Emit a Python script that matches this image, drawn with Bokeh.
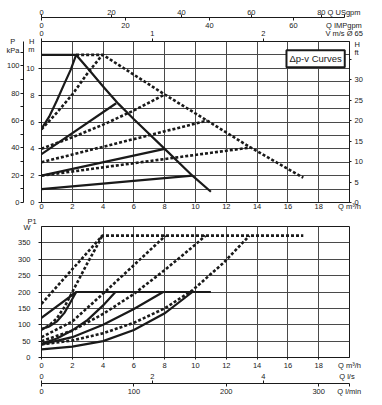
from bokeh.plotting import figure
from bokeh.models import Range1d, LinearAxis, FixedTicker, Label, Title
from bokeh.layouts import column
from bokeh.embed import file_html
from bokeh.resources import INLINE

# ---------------- data ----------------
# Upper chart: head H [m] against flow Q [m3/h]
h_solid_max_q = [0, 2.25, 3.0, 4.0, 5.0, 6.0, 8.0, 9.8, 11.0]
h_solid_max_h = [11, 11, 10.0, 8.65, 7.35, 6.2, 4.0, 2.0, 0.8]
h_solid_curve_q = [0, 0.5, 1.0, 1.5, 1.9, 2.25]
h_solid_curve_h = [5.5, 6.4, 7.6, 8.9, 9.9, 11.0]
h_solid_1_q = [0, 4.85]
h_solid_1_h = [3.6, 7.4]
h_solid_2_q = [0, 8.0]
h_solid_2_h = [2.0, 4.0]
h_solid_3_q = [0, 9.8]
h_solid_3_h = [1.0, 2.0]

h_dot_max_q = [2.25, 4.0, 8.0, 10.76, 13.57, 17.0]
h_dot_max_h = [11, 11, 8.05, 6.1, 4.1, 1.85]
h_dot_curve_q = [0, 1, 2, 3, 3.95]
h_dot_curve_h = [5.45, 6.7, 8.05, 9.65, 11.0]
h_dot_1_q = [0, 2, 4, 6, 8.0]
h_dot_1_h = [4.0, 4.86, 5.8, 6.86, 8.05]
h_dot_2_q = [0, 10.76]
h_dot_2_h = [3.0, 6.1]
h_dot_3_q = [0, 13.57]
h_dot_3_h = [2.0, 4.1]

# Lower chart: power input P1 [W] against flow Q [m3/h]
p_solid_max_q = [0, 2.25, 11.0]
p_solid_max_p = [121, 200, 200]
p_solid_curve_q = [0, 0.5, 1.0, 1.5, 1.9, 2.25]
p_solid_curve_p = [87, 95, 110, 137, 170, 200]
p_solid_1_q = [0, 1, 2, 3, 4, 4.8]
p_solid_1_p = [42, 58, 83, 115, 159, 200]
p_solid_2_q = [0, 2, 4, 6, 7.9]
p_solid_2_p = [40, 62, 100, 148, 200]
p_solid_3_q = [0, 2, 4, 6, 8, 9.8]
p_solid_3_p = [25, 33, 50, 84, 135, 200]

p_dot_max_q = [0, 3.95, 17.0]
p_dot_max_p = [164, 372, 372]
p_dot_curve_q = [0, 0.5, 1, 1.5, 2, 2.5, 3, 3.5, 3.95]
p_dot_curve_p = [85, 98, 120, 155, 200, 245, 290, 332, 372]
p_dot_1_q = [0, 2, 4, 6, 8.05]
p_dot_1_p = [62, 110, 195, 282, 372]
p_dot_2_q = [0, 2, 4, 6, 8, 10, 10.65]
p_dot_2_p = [50, 82, 133, 194, 267, 345, 372]
p_dot_3_q = [0, 2, 4, 6, 8, 9.8, 11.84, 13.5]
p_dot_3_p = [40, 52, 74, 106, 150, 205, 290, 372]

# tick labels
q_ticks = [0, 2, 4, 6, 8, 10, 12, 14, 16, 18]
h_m_ticks = [0, 2, 4, 6, 8, 10]
h_kpa_ticks = [0, 20, 40, 60, 80, 100]
h_kpa_marks = [0, 10, 20, 30, 40, 50, 60, 70, 80, 90, 100, 110]
h_ft_ticks = [0, 5, 10, 15, 20, 25, 30]
h_ft_marks = [0, 5, 10, 15, 20, 25, 30, 35]
v_ticks = [0, 1, 2]
usgpm_ticks = [0, 20, 40, 60, 80]
impgpm_ticks = [0, 20, 40, 60]
p1_ticks = [0, 50, 100, 150, 200, 250, 300, 350]
ls_ticks = [0, 2, 4]
lmin_ticks = [0, 100, 200, 300]

# unit conversions
Q_MAX, H_MAX, P_MAX = 20.0, 12.0, 400.0
M_TO_KPA, M_TO_FT = 9.81, 3.281
M3H_TO_USGPM, M3H_TO_IMPGPM = 4.403, 3.666
M3H_PER_MS = 7.2
M3H_TO_LS, M3H_TO_LMIN = 1 / 3.6, 1000 / 60

# ---------------- styling helpers ----------------
FONT = "Liberation Sans"
FS = "7.5px"
INK = "#1a1a1a"
GRID = "#4a4a4a"
W = 372
LB, RB = 41, 23
NB = "\u00a0"


def style_axis(ax, labels, marks, standoff, mark_out=3, mark_in=0, overrides=None,
               line=True, label_tick=0):
    """labels: positions carrying text; marks: positions with a visible (minor) tick mark.
    label_tick > 0 also draws a mark of that length at every label position."""
    ax.ticker = FixedTicker(ticks=labels, minor_ticks=marks)
    ax.major_label_overrides = overrides or {}
    ax.major_label_text_font = FONT
    ax.major_label_text_font_size = FS
    ax.major_label_text_color = INK
    ax.major_tick_out = label_tick
    ax.major_tick_in = 0
    ax.major_tick_line_color = INK if label_tick else None
    ax.minor_tick_out = mark_out
    ax.minor_tick_in = mark_in
    ax.minor_tick_line_color = INK
    ax.major_label_standoff = standoff
    ax.axis_line_color = INK if line else None


def base(height, top, bottom, y_range):
    p = figure(width=W, height=height, title=None,
               x_range=Range1d(0, Q_MAX), y_range=y_range,
               min_border_left=LB, min_border_right=RB,
               min_border_top=top, min_border_bottom=bottom,
               toolbar_location=None, output_backend="svg")
    p.background_fill_color = "white"
    p.border_fill_color = "white"
    p.outline_line_color = INK
    return p


def style_grid(p, xt, yt):
    p.xgrid.ticker = FixedTicker(ticks=xt)
    p.ygrid.ticker = FixedTicker(ticks=yt)
    for g in (p.xgrid[0], p.ygrid[0]):
        g.grid_line_color = GRID
        g.grid_line_width = 1


SOLID = dict(line_color=INK, line_width=2.2, line_join="miter")
DOT = dict(line_color=INK, line_width=2.6, line_dash="3 2", line_cap="butt")

# ---------------- upper chart: H ----------------
top = base(213, 41, 11, Range1d(0, H_MAX))
style_grid(top, q_ticks[1:], list(range(1, 12)))

style_axis(top.xaxis[0], q_ticks + [20], [], -1, overrides={20: "Q m³/h"})
style_axis(top.yaxis[0], h_m_ticks + [11.4, 12], h_m_ticks, 4,
           overrides={11.4: NB + "m", 12: "H"})

top.extra_y_ranges = {"kpa": Range1d(0, H_MAX * M_TO_KPA), "ft": Range1d(0, H_MAX * M_TO_FT)}
top.extra_x_ranges = {"v": Range1d(0, Q_MAX / M3H_PER_MS),
                      "imp": Range1d(0, Q_MAX * M3H_TO_IMPGPM),
                      "us": Range1d(0, Q_MAX * M3H_TO_USGPM)}
ax_kpa = LinearAxis(y_range_name="kpa")
style_axis(ax_kpa, h_kpa_ticks + [111.5, 117.5], h_kpa_marks, 1,
           overrides={111.5: "kPa", 117.5: "P" + NB * 2})
top.add_layout(ax_kpa, "left")
ax_ft = LinearAxis(y_range_name="ft")
style_axis(ax_ft, h_ft_ticks + [36.6, 38.55], h_ft_marks, 3, mark_out=2,
           overrides={36.6: "ft", 38.55: "H"})
top.add_layout(ax_ft, "right")

# stacked upward from the frame: V, IMPgpm, USgpm
ax_v = LinearAxis(x_range_name="v")
style_axis(ax_v, v_ticks + [2.73], v_ticks, 1, overrides={2.73: "V m/s Ø 65"}, line=False)
top.add_layout(ax_v, "above")
ax_imp = LinearAxis(x_range_name="imp")
style_axis(ax_imp, impgpm_ticks + [72], [], -4, mark_out=0,
           overrides={72: "Q IMPgpm"}, line=False)
top.add_layout(ax_imp, "above")
ax_us = LinearAxis(x_range_name="us", bounds=(0, 86.5))
imp_marks_in_us = [v / M3H_TO_IMPGPM * M3H_TO_USGPM for v in impgpm_ticks]
style_axis(ax_us, usgpm_ticks + [86.5], imp_marks_in_us, -2, mark_out=0, mark_in=3,
           overrides={86.5: "Q USgpm"}, label_tick=3)
top.add_layout(ax_us, "above")

for q, h in [(h_dot_max_q, h_dot_max_h), (h_dot_curve_q, h_dot_curve_h),
             (h_dot_1_q, h_dot_1_h), (h_dot_2_q, h_dot_2_h), (h_dot_3_q, h_dot_3_h)]:
    top.line(q, h, **DOT)
for q, h in [(h_solid_max_q, h_solid_max_h), (h_solid_curve_q, h_solid_curve_h),
             (h_solid_1_q, h_solid_1_h), (h_solid_2_q, h_solid_2_h), (h_solid_3_q, h_solid_3_h)]:
    top.line(q, h, **SOLID)

top.add_layout(Label(x=17.8, y=10.72, text="Δp-v Curves", text_align="center",
                     text_baseline="middle", text_font=FONT,
                     text_font_size="9.5px", text_color=INK,
                     border_line_color=INK, border_line_width=2,
                     background_fill_color="white", padding=3))

# ---------------- lower chart: P1 ----------------
bot = base(185, 13, 38, Range1d(0, P_MAX))
style_grid(bot, q_ticks[1:], p1_ticks[1:])
style_axis(bot.xaxis[0], q_ticks + [20], q_ticks, 1, mark_out=2, overrides={20: "Q m³/h"})
style_axis(bot.yaxis[0], p1_ticks + [396], p1_ticks, 8, overrides={396: "W"})
bot.add_layout(Title(text="P1", align="left", offset=-14, standoff=1,
                     text_font=FONT, text_font_size=FS, text_font_style="normal",
                     text_color=INK), "above")

# stacked downward from the frame: m3/h (default), l/s, l/min
bot.extra_x_ranges = {"ls": Range1d(0, Q_MAX * M3H_TO_LS),
                      "lmin": Range1d(0, Q_MAX * M3H_TO_LMIN)}
ax_ls = LinearAxis(x_range_name="ls")
style_axis(ax_ls, ls_ticks + [5.51], [], -1, mark_out=0,
           overrides={5.51: "Q l/s"}, line=False)
bot.add_layout(ax_ls, "below")
ax_lm = LinearAxis(x_range_name="lmin")
ls_marks_in_lmin = [v / M3H_TO_LS * M3H_TO_LMIN for v in ls_ticks]
style_axis(ax_lm, lmin_ticks + [333], ls_marks_in_lmin, 0, mark_out=0, mark_in=3,
           overrides={333: "Q l/min"}, label_tick=3)
bot.add_layout(ax_lm, "below")

for q, pw in [(p_dot_max_q, p_dot_max_p), (p_dot_curve_q, p_dot_curve_p),
              (p_dot_1_q, p_dot_1_p), (p_dot_2_q, p_dot_2_p), (p_dot_3_q, p_dot_3_p)]:
    bot.line(q, pw, **DOT)
for q, pw in [(p_solid_max_q, p_solid_max_p), (p_solid_curve_q, p_solid_curve_p),
              (p_solid_1_q, p_solid_1_p), (p_solid_2_q, p_solid_2_p), (p_solid_3_q, p_solid_3_p)]:
    bot.line(q, pw, **SOLID)

layout = column(top, bot, spacing=0)
open("out.html", "w").write(file_html(layout, INLINE))
